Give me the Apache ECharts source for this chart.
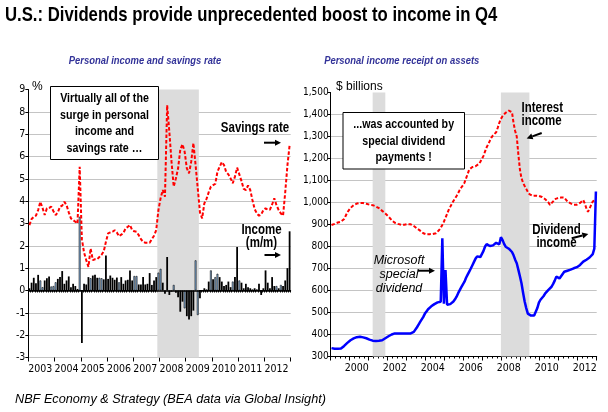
<!DOCTYPE html>
<html><head><meta charset="utf-8">
<script src="https://cdn.jsdelivr.net/npm/echarts@6/dist/echarts.min.js"></script>
<style>html,body{margin:0;padding:0;background:#fff}#c{width:608px;height:412px}</style>
</head><body><div id="c"></div>
<script>
// ---------- data ----------
const leftYears = ['2003','2004','2005','2006','2007','2008','2009','2010','2011','2012'];
const rightYears = ['1999','2000','2001','2002','2003','2004','2005','2006','2007','2008','2009','2010','2011','2012'];

// Personal savings rate, % (monthly, 2003-2012)
const savingsRate = [
  2.93,3.20,3.30,3.35,3.60,3.97,3.70,3.38,3.68,3.70,3.75,3.55,
  3.38,3.50,3.75,3.80,3.97,3.82,3.50,3.23,3.15,3.08,3.00,5.54,
  2.30,1.70,1.36,1.06,1.88,1.36,1.40,1.40,1.50,1.60,1.75,2.18,
  2.56,2.60,2.63,2.70,2.60,2.43,2.50,2.58,2.78,2.85,2.93,2.70,
  2.65,2.63,2.48,2.30,2.18,2.14,2.14,2.14,2.30,2.45,2.70,3.60,
  4.13,4.50,4.20,8.30,7.10,5.77,4.65,5.02,5.47,6.30,6.55,6.21,
  5.47,5.25,5.77,6.60,5.62,4.57,3.50,3.23,3.90,4.10,4.40,4.65,
  4.72,4.77,5.32,5.54,5.75,5.62,5.30,5.20,5.02,4.80,5.10,5.50,
  5.20,4.90,4.55,4.50,4.70,4.50,4.05,3.65,3.45,3.35,3.40,3.60,
  3.68,3.62,3.62,3.85,4.13,3.82,3.60,3.45,3.35,4.40,5.60,6.50
];
// Personal income, % m/m (monthly, 2003-2012)
const incomeMoM = [
  0.10,0.35,0.57,0.33,0.70,0.45,0.15,0.45,0.55,0.63,0.18,0.20,
  0.37,0.52,0.60,0.87,0.30,0.45,0.63,0.15,0.30,0.20,0.07,3.30,
  -2.35,0.30,0.27,0.60,0.55,0.67,0.70,0.57,0.57,0.55,0.50,1.57,
  0.52,0.67,0.57,0.48,0.58,0.37,0.60,0.30,0.45,0.48,0.90,0.45,
  0.65,0.65,0.27,0.27,0.60,0.27,0.30,0.78,0.25,0.45,0.60,0.80,
  0.97,0.35,-0.15,1.50,-0.20,-0.05,0.25,-0.10,-0.30,-0.95,-0.50,-0.80,
  -1.15,-1.30,-1.15,-0.90,1.35,-1.10,-0.35,0.02,0.10,0.05,0.40,0.90,
  0.50,0.60,0.75,0.60,0.40,0.20,0.25,0.40,0.15,0.40,0.60,1.95,
  0.45,0.35,0.10,0.30,0.15,0.10,0.05,0.10,0.05,0.30,-0.20,0.10,
  0.90,0.35,0.10,0.60,0.20,0.20,0.10,0.25,0.20,0.45,1.00,2.65
];
// months whose income bar is drawn light blue
const incomeBlueMonths = ['2003-06','2003-07','2003-11','2003-12','2004-01','2004-12','2005-05','2005-09','2005-10',
  '2006-06','2007-01','2007-02','2007-12','2008-01','2008-07','2008-12','2009-05','2009-06','2009-12',
  '2010-02','2010-03','2010-10','2011-01','2012-06','2012-08'];

// Personal interest income, $ billions (monthly, 1999-2012)
const interestIncome = [
  898,900,903,906,909,911,913,915,925,940,955,965,
  975,982,988,992,995,997,998,999,998,996,994,992,
  990,989,988,986,982,978,974,968,962,955,950,943,
  936,928,920,913,908,905,903,901,899,898,899,901,
  902,902,901,898,893,888,882,878,872,866,860,856,
  855,855,856,856,857,857,860,866,875,885,898,913,
  930,948,966,980,994,1007,1018,1030,1043,1057,1068,1078,
  1090,1110,1130,1150,1158,1161,1163,1165,1168,1175,1185,1198,
  1212,1232,1251,1265,1280,1295,1305,1312,1319,1340,1362,1380,
  1392,1400,1408,1414,1418,1421,1410,1360,1325,1300,1220,1150,
  1110,1090,1075,1062,1048,1038,1032,1030,1030,1031,1030,1030,
  1028,1025,1020,1015,1011,1000,989,995,1005,1015,1019,1020,
  1022,1023,1024,1022,1015,1005,998,996,993,990,989,990,
  992,998,1005,1011,995,973,958,973,989,1005,1011,1011
];
// Personal dividend income, $ billions (monthly, 1999-2012)
const dividendIncome = [
  338,336,335,335,335,335,336,342,348,355,362,368,
  374,378,382,385,388,390,390,389,387,385,383,380,
  377,374,372,371,371,371,372,372,374,378,383,388,
  392,396,400,403,405,405,405,405,405,405,405,405,
  405,405,405,405,412,420,433,445,457,466,480,495,
  505,515,522,528,532,538,542,546,548,549,837,540,
  693,535,535,538,542,550,560,572,588,602,615,628,
  640,658,672,686,700,715,730,745,755,758,752,746,
  780,800,811,805,802,799,805,812,817,808,810,842,
  830,812,799,795,790,784,775,760,740,724,695,665,
  633,590,550,520,495,486,486,486,486,495,520,545,
  558,565,575,587,595,603,610,617,630,645,663,658,
  655,665,675,685,688,690,692,695,698,701,703,706,
  711,716,722,731,735,740,746,750,755,765,790,1050
];
const leftRecessions = [['2007-12','2009-06']];
const rightRecessions = [['2001-03','2001-11'],['2007-12','2009-06']];

// ---------- build ----------
function months(years){ const out=[]; years.forEach(y=>{for(let m=1;m<=12;m++) out.push(y+'-'+String(m).padStart(2,'0'));}); return out; }
const leftMonths = months(leftYears);
const rightMonths = months(rightYears);

const ARIAL = '"Liberation Sans",Arial,sans-serif';
const AXISF = '"DejaVu Sans Condensed","Liberation Sans",sans-serif';
const GRIDC = '#c4c4c4';
const SHADE = '#dcdcdc';
const NARROWX = 0.82;

const barData = incomeMoM.map((v,i)=> incomeBlueMonths.includes(leftMonths[i])
  ? {value:v, itemStyle:{color:'#99ccff', borderColor:'#000', borderWidth:0.6}}
  : {value:v});

function fmtComma(v){ return v>=1000 ? Math.floor(v/1000)+','+String(v%1000).padStart(3,'0') : String(v); }

function arrow(x1,y1,x2,y2){
  const dx=x2-x1, dy=y2-y1, L=Math.hypot(dx,dy), ux=dx/L, uy=dy/L, hl=6, hw=3;
  const bx=x2-ux*hl, by=y2-uy*hl;
  return [
    {type:'line', shape:{x1:x1,y1:y1,x2:bx,y2:by}, style:{stroke:'#000', lineWidth:2}, z:100},
    {type:'polygon', shape:{points:[[x2,y2],[bx-uy*hw,by+ux*hw],[bx+uy*hw,by-ux*hw]]}, style:{fill:'#000'}, z:100}
  ];
}
// narrow=true emulates Arial Narrow by horizontally compressing Liberation Sans
function txt(x,y,text,font,align,narrow,extra){
  return {type:'text', x:x, y:y, z:100, scaleX: narrow?NARROWX:1, scaleY:1,
    style:Object.assign({text:text, font:font, fill:'#000', align:align||'center', verticalAlign:'middle'}, extra||{})};
}

const catAxis = (data, grid, tickFn, tickLen, labelFn, showLine) => ({
  type:'category', data:data, gridIndex:grid, position:'bottom', boundaryGap:true,
  axisLine:{show:showLine, lineStyle:{color:'#000', width:1}},
  axisTick:{show:true, interval:tickFn, length:tickLen, lineStyle:{color:'#000', width:1}},
  axisLabel:{show:!!labelFn, interval:labelFn||0, formatter:v=>v.slice(0,4), margin:6,
    fontFamily:AXISF, fontSize:10.5, color:'#000'},
  splitLine:{show:false}
});

const option = {
  animation:false,
  backgroundColor:'#fff',
  grid:[
    {left:28.3, top:89.5, width:262.4, height:268},
    {left:330.7, top:92.5, width:266, height:264}
  ],
  xAxis:[
    catAxis(leftMonths,0,(i)=>true,2,(i)=>i%12===5,true),
    catAxis(leftMonths,0,(i)=>i%12===0,4,null,false),
    catAxis(rightMonths,1,(i)=>i%3===0,2,(i)=>i%24===16,true),
    catAxis(rightMonths,1,(i)=>i%12===0,4,null,false)
  ],
  yAxis:[
    {type:'value', gridIndex:0, min:-3, max:9, interval:1,
     axisLine:{show:true, lineStyle:{color:'#000'}},
     axisTick:{show:true, length:3, lineStyle:{color:'#000'}},
     axisLabel:{margin:3, fontFamily:AXISF, fontSize:10.5, color:'#000'},
     splitLine:{show:true, showMaxLine:false, lineStyle:{color:GRIDC, width:1}}},
    {type:'value', gridIndex:1, min:300, max:1500, interval:100,
     axisLine:{show:true, lineStyle:{color:'#000'}},
     axisTick:{show:true, length:3, lineStyle:{color:'#000'}},
     axisLabel:{margin:2, fontFamily:AXISF, fontSize:10, color:'#000', formatter:fmtComma},
     splitLine:{show:true, showMaxLine:false, lineStyle:{color:GRIDC, width:1}}}
  ],
  series:[
    {name:'Income (m/m)', type:'bar', xAxisIndex:0, yAxisIndex:0, data:barData, barWidth:'82%',
     itemStyle:{color:'#000'},
     markArea:{silent:true, itemStyle:{color:SHADE}, data:leftRecessions.map(r=>[{xAxis:r[0]},{xAxis:r[1]}])},
     markLine:{silent:true, symbol:['none','none'], label:{show:false},
       lineStyle:{color:'#000', width:1.5, type:'solid'}, data:[{yAxis:0}]}},
    {name:'Savings rate', type:'line', xAxisIndex:0, yAxisIndex:0, data:savingsRate, symbol:'none',
     lineStyle:{color:'#ff0000', width:2, type:[3.5,2]}, z:5},
    {name:'Interest income', type:'line', xAxisIndex:2, yAxisIndex:1, data:interestIncome, symbol:'none',
     lineStyle:{color:'#ff0000', width:2, type:[3.5,2]},
     markArea:{silent:true, itemStyle:{color:SHADE}, data:rightRecessions.map(r=>[{xAxis:r[0]},{xAxis:r[1]}])}},
    {name:'Dividend income', type:'line', xAxisIndex:2, yAxisIndex:1, data:dividendIncome, symbol:'none',
     lineStyle:{color:'#0000ff', width:2.5}}
  ],
  graphic:[
    txt(5,15,'U.S.: Dividends provide unprecedented boost to income in Q4','bold 20.4px '+ARIAL,'left',true),
    txt(145,60.5,'Personal income and savings rate','italic bold 11.5px '+ARIAL,'center',true,{fill:'#333399'}),
    txt(401.7,60.5,'Personal income receipt on assets','italic bold 11.5px '+ARIAL,'center',true,{fill:'#333399'}),
    txt(32,87,'%','12px '+ARIAL,'left',false),
    txt(336,87,'$ billions','12px '+ARIAL,'left',false),
    {type:'rect', z:99, shape:{x:50.5,y:86.5,width:108,height:73}, style:{fill:'#fff', stroke:'#000', lineWidth:1}},
    txt(104.5,123.5,'Virtually all of the\nsurge in personal\nincome and\nsavings rate …','bold 13px '+ARIAL,'center',true,{lineHeight:16.5}),
    txt(255,128,'Savings rate','bold 14px '+ARIAL,'center',true),
    ...arrow(264,142.7,281,142.7),
    txt(261.5,236.7,'Income\n(m/m)','bold 14px '+ARIAL,'center',true,{lineHeight:13.5}),
    ...arrow(264.5,255,281,255),
    {type:'rect', z:99, shape:{x:343,y:112.5,width:121.5,height:56.5}, style:{fill:'#fff', stroke:'#000', lineWidth:1}},
    txt(403.7,141,'...was accounted by\nspecial dividend\npayments !','bold 13px '+ARIAL,'center',true,{lineHeight:16.5}),
    txt(521.5,115,'Interest\nincome','bold 14px '+ARIAL,'left',true,{lineHeight:13}),
    ...arrow(541.7,133,526.7,138.5),
    txt(556.5,236.7,'Dividend\nincome','bold 14px '+ARIAL,'center',true,{lineHeight:13.5}),
    ...arrow(571.7,238.3,588.3,234),
    txt(399,275,'Microsoft\nspecial\ndividend','italic 12.5px '+ARIAL,'center',false,{lineHeight:14}),
    ...arrow(418,270.7,435,270.7),
    txt(15,399,'NBF Economy & Strategy (BEA data via Global Insight)','italic 12.7px '+ARIAL,'left',false)
  ]
};
echarts.init(document.getElementById('c'), null, {renderer:'canvas'}).setOption(option);
</script></body></html>
